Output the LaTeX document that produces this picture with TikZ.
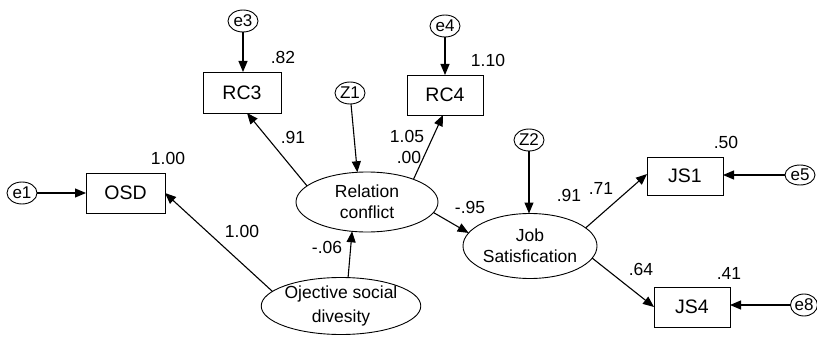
\documentclass[tikz,border=0pt]{standalone}
\usepackage{fontspec}
\setmainfont{Liberation Sans}
\usetikzlibrary{arrows.meta,shapes.geometric,calc}
\begin{document}
\begin{tikzpicture}[x=1pt,y=-1pt,
  every node/.style={inner sep=0pt,outer sep=0pt},
  obs/.style={draw,line width=0.9pt,rectangle,font=\fontsize{19.5}{22}\selectfont},
  lat/.style={draw,line width=0.9pt,ellipse,align=center,font=\fontsize{17.5}{21}\selectfont},
  err/.style={draw,line width=0.9pt,ellipse,minimum width=30pt,minimum height=22pt,font=\fontsize{17}{18}\selectfont},
  arr/.style={line width=1.1pt,-{Triangle[length=11pt,width=9pt]}},
  lbl/.style={font=\fontsize{17.5}{19}\selectfont}]
\useasboundingbox (0,0) rectangle (817,337);

% observed indicators
\node[obs,minimum width=78pt,minimum height=41pt] (RC3) at (242,92.5) {RC3};
\node[obs,minimum width=76pt,minimum height=40pt] (RC4) at (445,95) {RC4};
\node[obs,minimum width=79pt,minimum height=40pt] (OSD) at (125.5,193) {OSD};
\node[obs,minimum width=76pt,minimum height=38pt] (JS1) at (685,176) {JS1};
\node[obs,minimum width=76pt,minimum height=40pt] (JS4) at (692,307) {JS4};

% latent constructs
\node[lat,minimum width=142pt,minimum height=60pt] (RC) at (367,202) {Relation\\conflict};
\node[lat,minimum width=138pt,minimum height=56pt,font=\fontsize{17.5}{24}\selectfont] (OBJ) at (341,306) {Ojective social\\divesity};
\node[lat,minimum width=134pt,minimum height=65pt] (JOB) at (530,246) {Job\\Satisfication};

% error and disturbance terms
\node[err] (e3) at (243,21) {e3};
\node[err] (e4) at (445,26) {e4};
\node[err] (Z1) at (350,93) {Z1};
\node[err] (Z2) at (529,140) {Z2};
\node[err] (e1) at (22,193) {e1};
\node[err,minimum height=20pt] (e5) at (800,175) {e5};
\node[err,minimum width=27pt] (e8) at (804,305) {e8};

% error paths
\draw[arr] (e3) -- (e3 |- RC3.north);
\draw[arr] (e4) -- (e4 |- RC4.north);
\draw[arr] (e1) -- (OSD.west);
\draw[arr] (e5) -- (JS1.east |- e5);
\draw[arr] (e8) -- (JS4.east |- e8);
\draw[arr] (Z1) -- (RC.108);
\draw[arr] (Z2) -- (Z2 |- JOB.north);

% structural and measurement paths
\draw[arr] (RC.165) -- ([xshift=5pt]RC3.south);
\draw[arr] (RC.26) -- ([xshift=-2pt]RC4.south);
\draw[arr] (OBJ.76) -- (RC.243);
\draw[arr] (OBJ.168) -- (OSD.east);
\draw[arr] (RC.-9) -- (JOB.168);
\draw[arr] (JOB.18) -- ([yshift=2pt]JS1.west);
\draw[arr] (JOB.-11) -- (JS4.west);

% estimates
\node[lbl] (v82) at (283,57) {.82};
\node[lbl] (v110) at (488,60) {1.10};
\node[lbl] (p91a) at (293,137) {.91};
\node[lbl] (p105) at (407,136) {1.05};
\node[lbl] (v00) at (409,157) {.00};
\node[lbl] (v100) at (168,158) {1.00};
\node[lbl] (p100) at (242,231) {1.00};
\node[lbl] (p06) at (327,247) {-.06};
\node[lbl] (p95) at (470,207) {-.95};
\node[lbl] (v91b) at (569,195) {.91};
\node[lbl] (p71) at (601,188) {.71};
\node[lbl] (v50) at (726,142) {.50};
\node[lbl] (p64) at (641,269) {.64};
\node[lbl] (v41) at (729,273) {.41};
\end{tikzpicture}
\end{document}
